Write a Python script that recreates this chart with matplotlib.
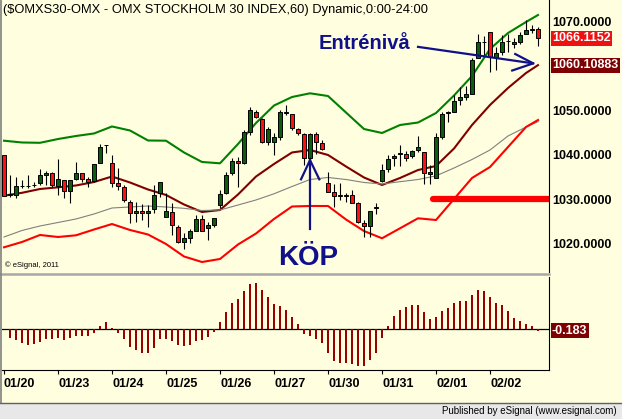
import numpy as np
import matplotlib
matplotlib.use("Agg")
import matplotlib.pyplot as plt
from matplotlib.lines import Line2D
from matplotlib.patches import Rectangle

plt.rcParams['font.family'] = ['Liberation Sans', 'DejaVu Sans']

title = "($OMXS30-OMX - OMX STOCKHOLM 30 INDEX,60) Dynamic,0:00-24:00"
day_labels = ['01/20', '01/23', '01/24', '01/25', '01/26', '01/27',
              '01/30', '01/31', '02/01', '02/02']
bars_per_day = 9

# hourly OHLC
opens = [
    1040.0, 1031.0, 1031.0, 1033.0, 1033.0, 1033.2, 1033.7, 1035.5, 1035.9,
    1033.0, 1034.4, 1031.9, 1034.6, 1035.9, 1034.6, 1034.1, 1038.2, 1042.2,
    1038.2, 1033.7, 1032.8, 1029.4, 1027.0, 1027.4, 1027.0, 1027.8, 1031.4,
    1026.1, 1027.2, 1023.8, 1020.4, 1021.3, 1022.9, 1025.6, 1023.6, 1024.3,
    1028.7, 1031.4, 1035.9, 1038.6, 1038.2, 1045.1, 1049.6, 1048.0, 1042.9,
    1042.9, 1044.0, 1049.4, 1049.1, 1045.8, 1044.7, 1039.3, 1044.7, 1042.6,
    1033.7, 1031.7, 1030.8, 1030.8, 1031.0, 1029.2, 1024.7, 1024.0, 1028.1,
    1034.1, 1036.8, 1039.3, 1040.2, 1040.2, 1039.7, 1041.1, 1040.6, 1035.7,
    1034.8, 1044.0, 1049.4, 1049.6, 1052.3, 1053.0, 1053.6, 1061.7, 1065.3,
    1067.5, 1061.9, 1063.0, 1065.5, 1064.8, 1065.3, 1067.1, 1068.0, 1068.2,
]
highs = [
    1040.0, 1035.5, 1035.0, 1034.4, 1035.5, 1033.9, 1036.8, 1036.4, 1036.1,
    1039.1, 1034.4, 1034.4, 1038.4, 1035.9, 1035.0, 1037.9, 1042.4, 1042.2,
    1040.0, 1037.0, 1033.2, 1029.9, 1029.4, 1029.0, 1028.8, 1033.2, 1033.9,
    1031.4, 1029.2, 1024.3, 1022.5, 1023.4, 1026.5, 1026.5, 1024.9, 1025.8,
    1032.1, 1036.1, 1039.3, 1039.5, 1045.6, 1050.7, 1050.0, 1048.3, 1046.2,
    1044.9, 1050.0, 1051.2, 1049.2, 1046.0, 1044.9, 1044.9, 1045.1, 1043.3,
    1036.1, 1033.5, 1033.7, 1031.4, 1032.1, 1029.4, 1025.4, 1027.4, 1029.2,
    1037.9, 1040.0, 1040.2, 1042.2, 1040.8, 1041.1, 1044.2, 1040.6, 1037.7,
    1044.9, 1049.6, 1049.8, 1053.4, 1055.2, 1055.4, 1061.7, 1067.1, 1066.6,
    1067.5, 1064.2, 1066.9, 1067.1, 1066.2, 1067.5, 1070.2, 1069.1, 1068.7,
]
lows = [
    1030.8, 1030.6, 1030.3, 1032.6, 1032.6, 1032.8, 1033.2, 1033.2, 1032.8,
    1031.0, 1030.3, 1029.2, 1034.4, 1033.9, 1032.8, 1033.9, 1038.2, 1040.4,
    1032.8, 1032.1, 1029.4, 1024.7, 1024.9, 1025.4, 1023.8, 1027.0, 1030.5,
    1026.1, 1022.0, 1020.2, 1018.9, 1020.2, 1022.9, 1022.9, 1021.0, 1023.8,
    1028.1, 1031.2, 1035.5, 1032.8, 1037.9, 1044.4, 1048.3, 1042.6, 1042.2,
    1040.0, 1043.3, 1048.9, 1045.6, 1044.4, 1037.7, 1038.8, 1040.2, 1041.1,
    1031.7, 1028.3, 1029.9, 1029.4, 1029.2, 1024.7, 1021.6, 1021.6, 1026.7,
    1033.9, 1036.1, 1037.5, 1037.5, 1038.6, 1039.3, 1040.6, 1033.5, 1033.5,
    1034.8, 1043.5, 1047.3, 1049.6, 1051.2, 1052.3, 1053.6, 1061.7, 1062.4,
    1058.6, 1059.0, 1062.4, 1063.0, 1063.9, 1064.8, 1067.1, 1067.3, 1064.4,
]
closes = [
    1030.8, 1031.1, 1033.0, 1033.1, 1033.1, 1033.3, 1035.5, 1035.9, 1033.2,
    1034.6, 1031.9, 1034.4, 1035.9, 1034.6, 1033.9, 1037.9, 1041.7, 1042.3,
    1033.7, 1033.0, 1029.9, 1027.0, 1027.4, 1027.0, 1027.4, 1031.0, 1033.9,
    1027.4, 1024.3, 1020.4, 1021.3, 1022.9, 1025.6, 1022.9, 1024.3, 1025.8,
    1031.2, 1035.5, 1038.6, 1038.2, 1045.1, 1050.0, 1048.5, 1042.9, 1045.8,
    1044.0, 1049.6, 1049.5, 1046.0, 1044.9, 1039.3, 1044.7, 1042.9, 1041.3,
    1031.7, 1030.8, 1030.9, 1030.9, 1029.2, 1024.9, 1024.0, 1027.4, 1028.2,
    1036.6, 1039.1, 1039.7, 1040.3, 1039.3, 1040.8, 1041.7, 1035.9, 1036.1,
    1044.0, 1049.1, 1049.6, 1052.1, 1053.0, 1053.6, 1061.3, 1065.3, 1065.4,
    1061.9, 1062.8, 1065.3, 1065.6, 1065.3, 1066.9, 1068.0, 1068.1, 1066.1152,
]

# indicator lines, read every third bar
line_bars = list(range(0, 88, 3)) + [89]
upper_band = [1043.16, 1042.76, 1042.69, 1043.54, 1044.22, 1044.78, 1046.35, 1045.45,
              1043.21, 1043.16, 1040.52, 1038.39, 1038.09, 1042.42, 1047.13, 1051.05,
              1052.96, 1053.79, 1053.18, 1049.48, 1045.78, 1044.89, 1046.68, 1047.24,
              1049.37, 1053.30, 1057.67, 1063.72, 1067.31, 1069.78, 1071.35]
mid_ma = [1030.83, 1031.48, 1032.33, 1032.71, 1033.12, 1033.90, 1035.13, 1033.79,
          1032.22, 1030.99, 1028.86, 1027.17, 1027.62, 1031.10, 1035.13, 1037.94,
          1040.52, 1041.08, 1039.96, 1037.38, 1034.91, 1033.23, 1034.80, 1036.59,
          1037.49, 1041.41, 1046.68, 1051.17, 1054.98, 1058.34, 1060.10883]
long_ma = [1021.57, 1023.03, 1024.04, 1024.82, 1025.61, 1026.73, 1028.07, 1028.30,
           1028.52, 1028.30, 1028.00, 1027.51, 1027.62, 1028.74, 1029.87, 1031.26,
           1032.89, 1034.46, 1034.91, 1034.46, 1033.79, 1033.45, 1033.97, 1034.46,
           1035.27, 1037.04, 1038.95, 1041.08, 1044.22, 1046.23, 1047.42]
lower_band = [1019.26, 1020.45, 1022.02, 1021.57, 1021.95, 1023.25, 1024.48, 1023.14,
              1022.13, 1020.00, 1017.20, 1015.96, 1016.64, 1019.89, 1022.35, 1025.61,
              1028.41, 1028.52, 1028.52, 1025.49, 1022.91, 1021.28, 1023.52, 1025.76,
              1025.38, 1030.09, 1034.80, 1037.26, 1041.75, 1046.23, 1047.80]

# oscillator histogram
hist = [0.0, -1.15, -1.47, -1.83, -2.11, -1.97, -1.69, -1.33, -1.33,
        -1.19, -1.42, -1.15, -0.87, -0.87, -0.87, -0.46, 0.46, 1.01,
        0.18, -0.46, -1.28, -2.38, -2.84, -3.21, -3.21, -2.52, -1.33,
        -1.33, -1.56, -2.15, -2.29, -2.15, -1.56, -1.47, -1.01, -0.37,
        1.01, 2.38, 3.57, 4.12, 5.27, 6.23, 6.37, 5.40, 4.40,
        3.48, 3.21, 2.66, 1.65, 0.73, -0.69, -0.87, -1.37, -1.83,
        -3.30, -4.31, -4.67, -4.67, -4.76, -4.99, -4.99, -4.21, -3.21,
        -1.24, 0.46, 1.83, 2.66, 3.07, 3.34, 3.34, 2.34, 1.42,
        1.65, 2.52, 2.98, 3.62, 3.89, 3.89, 4.72, 5.40, 5.27,
        4.44, 3.62, 3.30, 2.52, 1.60, 1.15, 0.73, 0.46, -0.183]

support_level = 1030.0
support_from_bar = 71.5
# 1060 sits under the moving-average value box, so it is left out
price_ticks = [1020, 1030, 1040, 1050, 1070]

BG = '#ffffe0'
NAVY = '#10108a'
W, H = 622, 419

fig = plt.figure(figsize=(W / 100, H / 100), dpi=100, facecolor=BG)
ax = fig.add_axes([2 / W, 1 - 272 / H, 547 / W, 272 / H], facecolor=BG)
ax2 = fig.add_axes([2 / W, 49 / H, 547 / W, 93 / H], facecolor=BG)

x = np.arange(len(closes))
o = np.array(opens); c = np.array(closes)
up = c >= o

# candles
ax.vlines(x, lows, highs, color='black', lw=0.8, zorder=3)
ax.bar(x[up], (c - o)[up], bottom=o[up], width=0.72, color='#0b5e0b',
       edgecolor='black', lw=0.7, zorder=4)
ax.bar(x[~up], (o - c)[~up], bottom=c[~up], width=0.72, color='#ff1010',
       edgecolor='black', lw=0.7, zorder=4)

ax.plot(line_bars, upper_band, color='#008000', lw=1.5, zorder=2)
ax.plot(line_bars, mid_ma, color='#800000', lw=1.5, zorder=2)
ax.plot(line_bars, long_ma, color='#808080', lw=0.8, zorder=2)
ax.plot(line_bars, lower_band, color='#ff0000', lw=1.5, zorder=2)

xmax = 90.83
ax.plot([support_from_bar, xmax], [support_level, support_level], color='#ff0000',
        lw=4.5, solid_capstyle='round', zorder=2, clip_on=True)

ax.set_xlim(-0.333, xmax)
ax.set_ylim(1013.72, 1074.71)
ax.set_xticks([])
ax.yaxis.tick_right()
ax.set_yticks(price_ticks)
ax.set_yticklabels([f'{v:.4f}' for v in price_ticks])
ax.tick_params(axis='y', length=0, pad=2, labelsize=9)
for t in ax.get_yticklabels():
    t.set_fontweight('bold')
for s in ['top', 'left', 'bottom']:
    ax.spines[s].set_visible(False)
ax.spines['right'].set_color('black')

ax.text(0.002, 0.985, title, transform=ax.transAxes, ha='left', va='top', fontsize=9.3)
ax.text(0.006, 0.012, '\u00a9 eSignal, 2011', transform=ax.transAxes, ha='left',
        va='bottom', fontsize=5.5)

# annotations
k = 51
tip = lows[k]
ax.plot([k, k], [tip, tip - 15.5], color=NAVY, lw=1.6, zorder=5)
ax.plot([k - 1.5, k, k + 1.55], [tip - 4.3, tip, tip - 4.3], color=NAVY, lw=1.6, zorder=5)
ax.text(k - 0.3, 1016.9, 'KÖP', color=NAVY, fontsize=20, fontweight='bold',
        ha='center', va='center', zorder=5)

ax.text(60.1, 1065.0, 'Entrénivå', color=NAVY, fontsize=14.5, fontweight='bold',
        ha='center', va='center', zorder=5)
ax.plot([69, 88.2], [1064.2, 1060.5], color=NAVY, lw=1.6, zorder=5)
ax.plot([85.2, 88.2, 84.7], [1062.6, 1060.5, 1058.9], color=NAVY, lw=1.6, zorder=5)

def value_box(axis, val, label, fc):
    axis.annotate(label, xy=(1, val), xycoords=axis.get_yaxis_transform(),
                  xytext=(3, 0), textcoords='offset pixels', ha='left', va='center',
                  color='white', fontsize=9, fontweight='bold', annotation_clip=False,
                  bbox=dict(boxstyle='square,pad=0.12', fc=fc, ec='none'), zorder=6)

value_box(ax, closes[-1], f'{closes[-1]:.4f}', '#ee1111')
value_box(ax, mid_ma[-1], f'{mid_ma[-1]:.5f}', '#7f0000')

# histogram panel
ax2.bar(x, hist, width=0.36, color='#990000', zorder=2)
ax2.axhline(0, color='black', lw=0.9, zorder=1)
ax2.set_xlim(-0.333, xmax)
ax2.set_ylim(-5.59, 7.19)
ax2.set_yticks([])
ticks = np.arange(len(day_labels)) * bars_per_day
ax2.set_xticks(ticks)
ax2.set_xticklabels(day_labels, ha='left', fontweight='bold', fontsize=9)
ax2.tick_params(axis='x', length=3, pad=3, color='black')
for s in ['top', 'left']:
    ax2.spines[s].set_visible(False)
value_box(ax2, hist[-1], f'{hist[-1]:.3f}', '#7f0000')

# frame pieces
fig.add_artist(Line2D([0, 549 / W], [1 - 274 / H] * 2, color='#a8a8a8', lw=1.8))
fig.add_artist(Line2D([1 / W, 1 / W], [16 / H, 1], color='#808080', lw=1.2))
fig.add_artist(Rectangle((0, 0), 1, 16 / H, transform=fig.transFigure,
                         fc='#e8e8e8', ec='none'))
fig.add_artist(Line2D([0, 1], [16 / H, 16 / H], color='#606060', lw=1.0))
fig.text(617 / W, 8 / H, 'Published by eSignal (www.esignal.com)', ha='right',
         va='center', fontsize=7)

fig.savefig('out.png', dpi=100, facecolor=BG)
